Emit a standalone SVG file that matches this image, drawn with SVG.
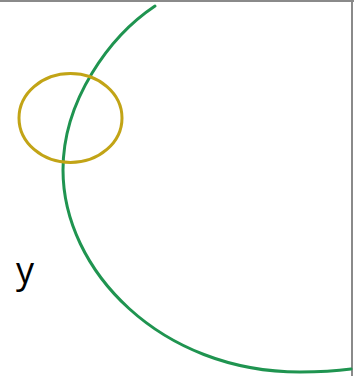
<svg xmlns="http://www.w3.org/2000/svg" width="354" height="376" viewBox="0 0 354 376">
<style>
.border{stroke:#8a8a8a;stroke-width:2;fill:none}
.arc{stroke:#1f9450;stroke-width:3;fill:none;stroke-linecap:round}
.ring{stroke:#c2a416;stroke-width:3;fill:none}
.lbl{font-family:"Open Sans","Liberation Sans",sans-serif;font-size:36px;fill:#000}
</style>
<rect width="354" height="376" fill="#fff"/>
<g id="frame">
<line class="border" x1="0" y1="1" x2="354" y2="1"/>
<line class="border" x1="352" y1="0" x2="352" y2="376"/>
</g>
<g id="connectors">
<path class="arc" d="M155,6 C110,36 63,100 63,170 C63,270 160,372 300,372 C325,372 340,370.5 351,369"/>
</g>
<g id="ellipse">
<ellipse class="ring" cx="70.5" cy="118" rx="51.5" ry="44.5"/>
</g>
<g id="label-y">
<text class="lbl" x="16" y="283">y</text>
</g>
</svg>
